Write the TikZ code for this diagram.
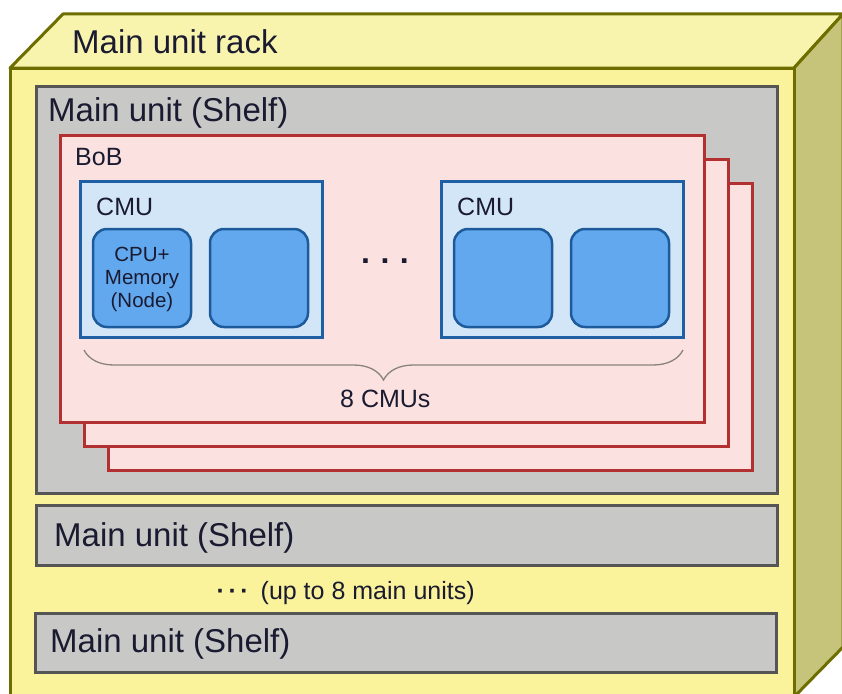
\documentclass[tikz,border=0pt]{standalone}
\usepackage{fontspec}
\setmainfont{Liberation Sans}
\usetikzlibrary{decorations.pathreplacing}
\definecolor{rackfront}{HTML}{FAF39B}
\definecolor{racktop}{HTML}{F8F4AE}
\definecolor{rackside}{HTML}{C6C47A}
\definecolor{rackline}{HTML}{6E6E00}
\definecolor{shelffill}{HTML}{C8C9C7}
\definecolor{shelfline}{HTML}{555555}
\definecolor{bobfill}{HTML}{FBE2E1}
\definecolor{bobline}{HTML}{B23030}
\definecolor{cmufill}{HTML}{D3E6F8}
\definecolor{cmuline}{HTML}{1F60A4}
\definecolor{nodefill}{HTML}{62A8EF}
\definecolor{nodeline}{HTML}{1D5A9A}
\definecolor{txt}{HTML}{1A1A30}
\definecolor{bracecol}{HTML}{8A8478}
\begin{document}
\begin{tikzpicture}[x=1pt,y=-1pt,
  box/.style={inner sep=0pt, outer sep=0pt, anchor=north west},
  rackface/.style={draw=rackline, line width=3pt, line join=round},
  shelfbox/.style={box, fill=shelffill, draw=shelfline, line width=3pt, minimum width=741pt},
  bobbox/.style={box, fill=bobfill, draw=bobline, line width=3pt, minimum width=644pt, minimum height=287pt},
  cmubox/.style={box, fill=cmufill, draw=cmuline, line width=3pt, minimum width=242pt, minimum height=156pt},
  cpubox/.style={box, fill=nodefill, draw=nodeline, line width=2.5pt, rounded corners=14pt, minimum width=98pt, minimum height=98pt},
  bigtext/.style={anchor=base west, inner sep=0pt, text=txt, font=\fontsize{33}{40}\selectfont},
  midtext/.style={anchor=base west, inner sep=0pt, text=txt, font=\fontsize{25}{30}\selectfont},
  smalltext/.style={inner sep=0pt, text=txt, align=center, font=\fontsize{20.5}{23}\selectfont}
]
\useasboundingbox (0,0) rectangle (842,693);
% rack
\filldraw[rackface, fill=racktop] (10,68) -- (63,14) -- (843,14) -- (794,68) -- cycle;
\filldraw[rackface, fill=rackside] (794,68) -- (843,14) -- (843,647) -- (794,697) -- cycle;
\node[box, fill=rackfront, draw=rackline, line width=3pt, minimum width=784pt, minimum height=640pt] (rack) at (10,68) {};
\node[bigtext] (racklabel) at (72,53) {Main unit rack};
% shelves
\node[shelfbox, minimum height=407pt] (shelf1) at (36,86) {};
\node[bigtext] (shelf1label) at (48,121) {Main unit (Shelf)};
\node[shelfbox, minimum height=60pt] (shelf2) at (36,505) {};
\node[bigtext] (shelf2label) at (54,546) {Main unit (Shelf)};
\node[shelfbox, minimum height=59pt] (shelf3) at (35,613) {};
\node[bigtext] (shelf3label) at (50,652) {Main unit (Shelf)};
\node[midtext] (more) at (216.5,599) {\textbf{·\hspace{3.5pt}·\hspace{3.5pt}·}\hspace{12pt}(up to 8 main units)};
% BoBs
\node[bobbox] (bob3) at (108,183) {};
\node[bobbox] (bob2) at (84,159) {};
\node[bobbox] (bob1) at (60,135) {};
\node[midtext] (boblabel) at (75,165) {BoB};
% CMUs
\node[cmubox] (cmu1) at (80,181) {};
\node[midtext] (cmu1label) at (96,215) {CMU};
\node[cmubox] (cmu2) at (441,181) {};
\node[midtext] (cmu2label) at (457,215) {CMU};
\node[cpubox] (n1) at (93,229) {};
\node[smalltext] (n1label) at (142,279) {CPU+\\Memory\\(Node)};
\node[cpubox] (n2) at (210,229) {};
\node[cpubox] (n3) at (454,229) {};
\node[cpubox] (n4) at (571,229) {};
\node[inner sep=0pt, text=txt, font=\fontsize{32}{32}\selectfont\bfseries] (dots) at (385,261) {.\hspace{10.5pt}.\hspace{10.5pt}.};
% brace
\coordinate (bl) at (84,350);
\coordinate (br) at (683,350);
\draw[bracecol, line width=1.3pt, decorate, decoration={brace, amplitude=30pt, mirror}] (bl) -- (br);
\node[midtext] (count) at (340,407) {8 CMUs};
\end{tikzpicture}
\end{document}
